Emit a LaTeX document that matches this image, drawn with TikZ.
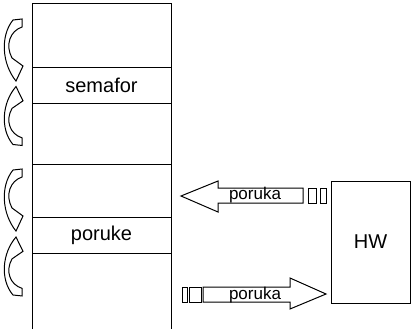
\documentclass[tikz,border=0pt]{standalone}
\usepackage{fontspec}
\setmainfont{Liberation Sans}
\begin{document}
\begin{tikzpicture}[x=1pt,y=-1pt,
  ln/.style={draw=black,line width=1pt},
  blk/.style={draw=black,fill=white,line width=1pt,line join=miter},
  curv/.style={draw=black,fill=white,line width=1pt,line join=miter},
  bigtxt/.style={inner sep=0pt,font=\fontsize{20}{24}\selectfont},
  smalltxt/.style={inner sep=0pt,font=\fontsize{17}{20}\selectfont},
  hwbox/.style={draw=black,line width=1pt,minimum width=79pt,minimum height=122pt,inner sep=0pt,font=\fontsize{20}{24}\selectfont}]
\useasboundingbox (0,0) rectangle (411,329);
% main column
\draw[ln] (32,329) -- (32,4) -- (171,4) -- (171,329);
\foreach \yy in {67,103,164,217,253} {\draw[ln] (32,\yy) -- (171,\yy);}
\node[bigtxt] (sem) at (101.5,85) {semafor};
\node[bigtxt] (por) at (101.5,235) {poruke};
% curved arrows
\newcommand\mycurvarrow{\path[curv] (13,20) -- (22,19) -- (22,27) .. controls (10,31) and (5,45) .. (12,58) -- (23,66) -- (16,81) .. controls (2,64) and (0,36) .. (13,20) -- cycle;}
\begin{scope}\mycurvarrow\end{scope}
\begin{scope}[shift={(0,163.5)},yscale=-0.95]\mycurvarrow\end{scope}
\begin{scope}[shift={(0,150)}]\mycurvarrow\end{scope}
\begin{scope}[shift={(0,314)},yscale=-0.95]\mycurvarrow\end{scope}
% HW box
\node[hwbox] (hw) at (370.5,242) {HW};
% upper block arrow (to the left)
\path[blk] (303,188) -- (218,188) -- (218,181) -- (181,196) -- (218,212) -- (218,203) -- (303,203) -- cycle;
\draw[ln] (308,188) rectangle (316,203);
\draw[ln] (320,188) rectangle (326,203);
\node[smalltxt] (m1) at (255,195.5) {poruka};
% lower block arrow (to the right)
\path[blk] (203,287) -- (290,287) -- (290,278) -- (326,294) -- (290,309) -- (290,302) -- (203,302) -- cycle;
\draw[ln] (182,287) rectangle (187,302);
\draw[ln] (189,287) rectangle (201,302);
\node[smalltxt] (m2) at (255,295) {poruka};
\end{tikzpicture}
\end{document}
